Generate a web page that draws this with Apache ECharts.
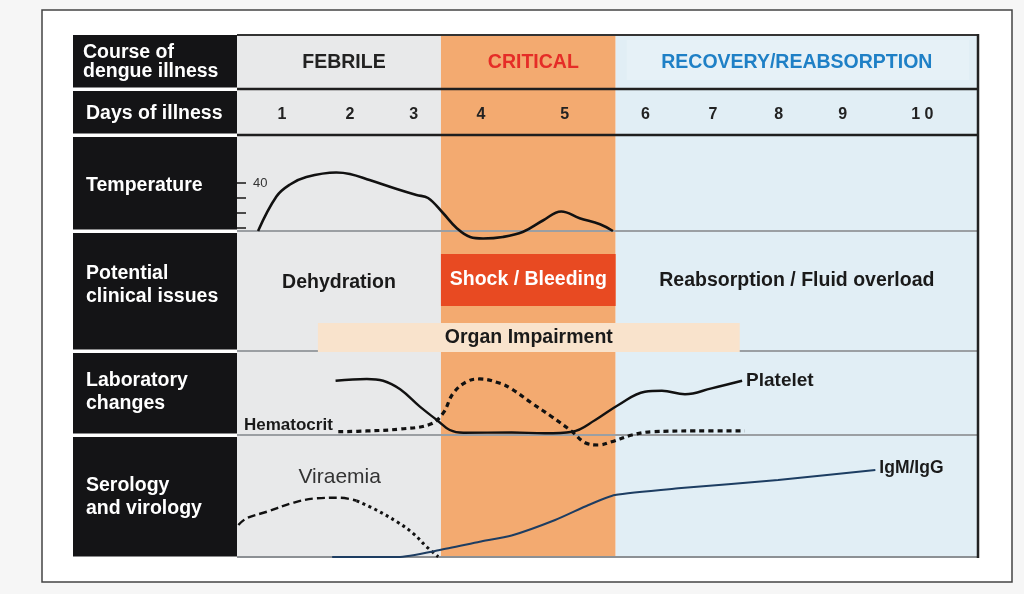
<!DOCTYPE html>
<html><head><meta charset="utf-8">
<script src="https://cdn.jsdelivr.net/npm/echarts@6/dist/echarts.min.js"></script>
<style>html,body{margin:0;padding:0;background:#f6f6f6}#c{width:1024px;height:594px}</style>
</head><body><div id="c"></div>
<script>
// ---------------- data ----------------
const rowLabels = [['Course of', 'dengue illness'], ['Days of illness'], ['Temperature'], ['Potential', 'clinical issues'], ['Laboratory', 'changes'], ['Serology', 'and virology']];
const phaseNames = ['FEBRILE', 'CRITICAL', 'RECOVERY/REABSORPTION'];
const phaseStart = [0.34, 3.34, 5.91];
const phaseEnd = [3.34, 5.91, 11.24];
const dayLabels = ['1', '2', '3', '4', '5', '6', '7', '8', '9', '1 0'];
const dayPos = [1.0, 2.0, 2.94, 3.93, 5.16, 6.35, 7.34, 8.31, 9.25, 10.42];
const tempTicks = [37, 38, 39, 40];
const tempTickLabels = [40];
const tempDays = [0.65, 0.92, 1.12, 1.36, 1.80, 2.00, 2.29, 2.69, 2.98, 3.15, 3.37, 3.57, 3.77, 3.96, 4.25, 4.55, 4.84, 5.11, 5.38, 5.68, 5.87];
const tempValues = [36.8, 39.1, 39.9, 40.4, 40.7, 40.6, 40.2, 39.6, 39.2, 39.0, 38.0, 37.0, 36.4, 36.3, 36.4, 36.75, 37.5, 38.1, 37.65, 37.25, 36.8];
const clinicalNames = ['Dehydration', 'Shock / Bleeding', 'Reabsorption / Fluid overload', 'Organ Impairment'];
const clinicalStart = [0.34, 3.34, 5.91, 1.53];
const clinicalEnd = [3.34, 5.91, 11.24, 7.735];
const plateletDays = [1.79, 2.25, 2.49, 2.74, 3.03, 3.28, 3.47, 3.67, 4.38, 4.87, 5.27, 5.61, 5.95, 6.34, 6.59, 6.93, 7.32, 7.77];
const plateletValues = [64.6, 66.7, 64.6, 54.4, 33.7, 17.9, 6.0, 2.7, 3.0, 2.0, 3.9, 17.9, 35.7, 51.5, 52.7, 48.5, 55.6, 64.6];
const hematocritDays = [1.83, 2.25, 2.74, 3.18, 3.37, 3.52, 3.72, 3.91, 4.21, 4.38, 4.68, 4.97, 5.27, 5.46, 5.66, 5.85, 6.15, 6.44, 7.08, 7.81];
const hematocritValues = [3.9, 4.8, 7.1, 12.7, 25.8, 49.6, 63.5, 66.7, 61.5, 54.8, 37.7, 21.8, 3.9, -9.2, -11.9, -8.0, 0, 3.9, 4.8, 4.8];
const viraemiaDays = [0.36, 0.48, 0.78, 1.17, 1.51, 1.85, 2.10, 2.39, 2.69, 2.93, 3.13, 3.30];
const viraemiaValues = [26.2, 31.7, 37.1, 44.5, 48.1, 48.6, 46.1, 38.5, 28.9, 19.4, 8.4, 0.2];
const igmDays = [1.74, 2.71, 3.32, 3.91, 4.38, 5.02, 5.51, 5.90, 6.83, 8.30, 9.73];
const igmValues = [0, 0, 5.7, 12.5, 17.6, 30.3, 42.6, 50.8, 56.3, 63.1, 71.3];

// ---------------- styles / layout ----------------
const FONT = '"Liberation Sans", Arial, Helvetica, sans-serif';
const phaseFill = ['#e8e9ea', '#f3aa70', '#e1eef5'];
const phaseTextColor = ['#222222', '#e52d27', '#1f80c6'];
const clinicalBox = [null, '#e84a22', null, '#f9e3cc'];
const clinicalTextColor = ['#1a1a1a', '#ffffff', '#1a1a1a', '#1a1a1a'];
const clinicalBand = [[55, 81], [45, 97], [57, 83], [-1, 28]];
const rowBounds = [35, 89, 135, 231, 351, 435, 558];
const rowTextY = [62, 114, 186, 285, 392, 497];
const rowLineH = [19, 23, 23, 23, 23, 23];
const TL = 237, TW = 741;
const XMIN = 0.34, XMAX = 11.24;
const HIDDEN = { color: 'rgba(0,0,0,0)', borderWidth: 0 };

function pairs(xs, ys) { return xs.map((x, i) => [x, ys[i]]); }
function labelAt(data, idx, label) {
  return data.map((p, i) => i === idx ? { value: p, label: Object.assign({ show: true }, label) } : p);
}

const grids = [
  { left: TL, top: 35, width: TW, height: 523 },    // background phases
  { left: TL, top: 92, width: TW, height: 46 },     // days
  { left: TL, top: 138, width: TW, height: 90 },    // temperature
  { left: TL, top: 231, width: TW, height: 120 },   // clinical
  { left: TL, top: 351, width: TW, height: 84 },    // lab
  { left: TL, top: 435, width: TW, height: 122 }    // serology
];
const xAxes = grids.map((g, i) => ({ gridIndex: i, type: 'value', min: XMIN, max: XMAX, show: false }));
const yAxes = [
  { gridIndex: 0, type: 'value', min: 0, max: 1, show: false },
  { gridIndex: 1, type: 'value', min: 0, max: 1, show: false },
  { gridIndex: 2, type: 'value', min: 37, max: 43, interval: 1, z: 20,
    axisLine: { show: false }, splitLine: { show: false },
    axisTick: { show: true, inside: true, length: 9, customValues: tempTicks, lineStyle: { color: '#222', width: 1.6 } },
    axisLabel: { show: true, inside: true, margin: 16, customValues: tempTickLabels, fontSize: 13, color: '#333', fontFamily: FONT } },
  { gridIndex: 3, type: 'value', min: 0, max: 120, show: false },
  { gridIndex: 4, type: 'value', min: 0, max: 100, show: false },
  { gridIndex: 5, type: 'value', min: 0, max: 100, show: false }
];

// graphic: frame, black label cells, separators
const graphic = [];
graphic.push({ type: 'rect', z: 0, shape: { x: 42, y: 10, width: 970, height: 572 }, style: { fill: '#ffffff', stroke: '#444', lineWidth: 1.5 } });
const seps = [[35, '#333', 2], [89, '#1e1e1e', 2.5], [135, '#1e1e1e', 2.5], [231, '#9b9fa3', 2], [351, '#9b9fa3', 2], [435, '#9b9fa3', 2], [557, '#8c9094', 2]];
seps.forEach(s => graphic.push({ type: 'line', z: 3, shape: { x1: TL, y1: s[0], x2: TL + TW, y2: s[0] }, style: { stroke: s[1], lineWidth: s[2] } }));
graphic.push({ type: 'line', z: 3, shape: { x1: TL + TW, y1: 34, x2: TL + TW, y2: 558 }, style: { stroke: '#222', lineWidth: 2.5 } });
rowLabels.forEach((lines, i) => {
  const y0 = rowBounds[i] + (i ? 2 : 0), y1 = rowBounds[i + 1] - 1.5;
  graphic.push({ type: 'rect', z: 6, shape: { x: 73, y: y0, width: TL - 73, height: y1 - y0 }, style: { fill: '#141416' } });
  graphic.push({ type: 'text', z: 7, x: i === 0 ? 83 : 86, y: rowTextY[i], style: { text: lines.join('\n'), fill: '#ffffff', font: 'bold 19.5px ' + FONT, lineHeight: rowLineH[i], verticalAlign: 'middle', align: 'left' } });
});

const series = [
  { type: 'custom', xAxisIndex: 0, yAxisIndex: 0, z: 1, silent: true,
    data: phaseNames.map((n, i) => [phaseStart[i], phaseEnd[i], i]),
    renderItem: function (params, api) {
      const i = api.value(2);
      const p0 = api.coord([api.value(0), 1]);
      const p1 = api.coord([api.value(1), 0]);
      const ch = [{ type: 'rect', shape: { x: p0[0], y: p0[1], width: p1[0] - p0[0], height: p1[1] - p0[1] }, style: { fill: phaseFill[i] } }];
      if (i === 2) ch.push({ type: 'rect', z2: 5, shape: { x: p0[0] + 11, y: p0[1] + 5, width: p1[0] - p0[0] - 20, height: 40 }, style: { fill: '#e6f1f7' } });
      ch.push({ type: 'text', z2: 10, style: { text: phaseNames[i], x: (p0[0] + p1[0]) / 2 + (i === 2 ? 0 : 5), y: p0[1] + 28, align: 'center', verticalAlign: 'middle', fill: phaseTextColor[i], font: 'bold 19.5px ' + FONT } });
      return { type: 'group', children: ch };
    } },
  { type: 'custom', xAxisIndex: 1, yAxisIndex: 1, z: 4, silent: true,
    data: dayPos.map((d, i) => [d, 0.5, i]),
    renderItem: function (params, api) {
      const p = api.coord([api.value(0), api.value(1)]);
      return { type: 'text', style: { text: dayLabels[api.value(2)], x: p[0], y: p[1], align: 'center', verticalAlign: 'middle', fill: '#222', font: 'bold 16px ' + FONT } };
    } },
  { type: 'line', name: 'Temperature', xAxisIndex: 2, yAxisIndex: 2, z: 5, clip: false, smooth: 0.4, showSymbol: false, symbol: 'none',
    data: pairs(tempDays, tempValues), lineStyle: { color: '#111', width: 2.6 } },
  { type: 'custom', xAxisIndex: 3, yAxisIndex: 3, z: 4, silent: true, clip: false,
    data: clinicalNames.map((n, i) => [clinicalStart[i], clinicalEnd[i], i]),
    renderItem: function (params, api) {
      const i = api.value(2);
      const b = clinicalBand[i];
      const p0 = api.coord([api.value(0), b[1]]);
      const p1 = api.coord([api.value(1), b[0]]);
      const ch = [];
      if (clinicalBox[i]) ch.push({ type: 'rect', shape: { x: p0[0], y: p0[1], width: p1[0] - p0[0], height: p1[1] - p0[1] }, style: { fill: clinicalBox[i] } });
      ch.push({ type: 'text', z2: 10, style: { text: clinicalNames[i], x: (p0[0] + p1[0]) / 2, y: (p0[1] + p1[1]) / 2, align: 'center', verticalAlign: 'middle', fill: clinicalTextColor[i], font: 'bold 19.5px ' + FONT } });
      return { type: 'group', children: ch };
    } },
  { type: 'line', name: 'Platelet', xAxisIndex: 4, yAxisIndex: 4, z: 5, clip: false, smooth: 0.4, showSymbol: false, symbol: 'none',
    data: pairs(plateletDays, plateletValues), lineStyle: { color: '#111', width: 2.4 },
    endLabel: { show: true, formatter: 'Platelet', distance: 4, color: '#1a1a1a', fontSize: 19, fontWeight: 'bold', fontFamily: FONT } },
  { type: 'line', name: 'Hematocrit', xAxisIndex: 4, yAxisIndex: 4, z: 5, clip: false, smooth: 0.4, symbol: 'circle', symbolSize: 1, showSymbol: true,
    itemStyle: HIDDEN,
    data: labelAt(pairs(hematocritDays, hematocritValues), 0, { position: 'left', distance: 5, offset: [0, -6], formatter: 'Hematocrit', color: '#1a1a1a', fontSize: 17, fontWeight: 'bold', fontFamily: FONT }),
    lineStyle: { color: '#111', width: 3.2, type: [5, 4] } },
  { type: 'line', name: 'Viraemia', xAxisIndex: 5, yAxisIndex: 5, z: 5, clip: false, smooth: 0.4, symbol: 'circle', symbolSize: 1, showSymbol: true,
    itemStyle: HIDDEN,
    data: labelAt(pairs(viraemiaDays.slice(0, 7), viraemiaValues.slice(0, 7)), 5, { position: 'top', distance: 10, formatter: 'Viraemia', color: '#333', fontSize: 21, fontFamily: FONT }),
    lineStyle: { color: '#111', width: 2.4, type: [8, 4] } },
  { type: 'line', name: 'Viraemia2', xAxisIndex: 5, yAxisIndex: 5, z: 5, clip: false, smooth: 0.4, symbol: 'none', showSymbol: false,
    data: pairs(viraemiaDays.slice(6), viraemiaValues.slice(6)),
    lineStyle: { color: '#111', width: 3, type: [3, 3.5] } },
  { type: 'line', name: 'IgM/IgG', xAxisIndex: 5, yAxisIndex: 5, z: 5, clip: false, smooth: 0.2, symbol: 'none', showSymbol: false,
    data: pairs(igmDays, igmValues), lineStyle: { color: '#1d3d62', width: 2 },
    endLabel: { show: true, formatter: 'IgM/IgG', distance: 4, offset: [0, -2], color: '#1a1a1a', fontSize: 17.5, fontWeight: 'bold', fontFamily: FONT } }
];

const chart = echarts.init(document.getElementById('c'), null, { renderer: 'canvas' });
chart.setOption({
  backgroundColor: '#f6f6f6',
  animation: false,
  textStyle: { fontFamily: FONT },
  grid: grids,
  xAxis: xAxes,
  yAxis: yAxes,
  graphic: graphic,
  series: series
});
</script>
</body></html>
